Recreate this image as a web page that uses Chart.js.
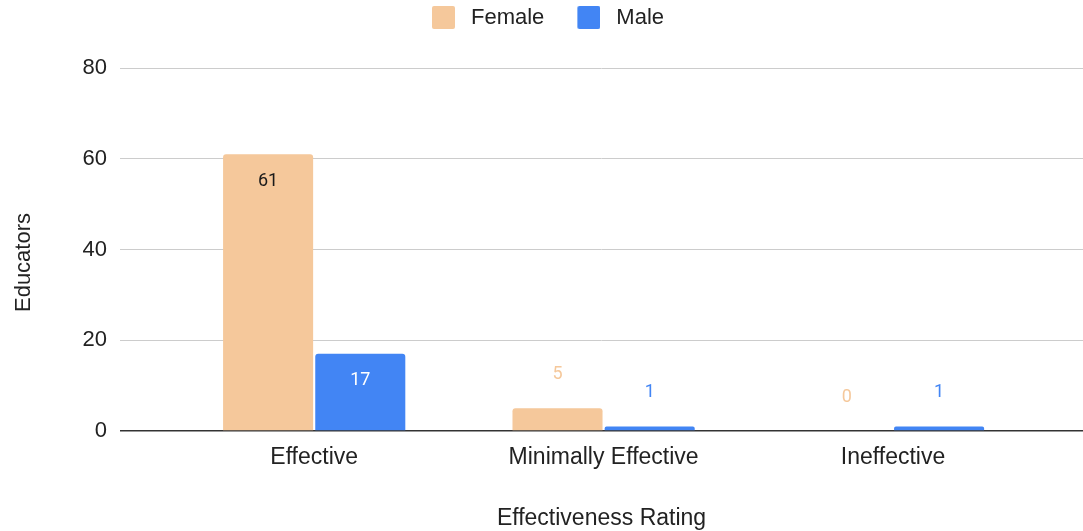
<!DOCTYPE html>
<html>
<head>
<meta charset="utf-8">
<title>Educators by Effectiveness Rating</title>
<script src="https://cdn.jsdelivr.net/npm/chart.js@4.4.1/dist/chart.umd.min.js"></script>
<style>
  html, body { margin: 0; padding: 0; background: #ffffff; }
  #wrap { width: 1083px; height: 531px; position: relative; }
</style>
</head>
<body>
<div id="wrap"><canvas id="chart"></canvas></div>
<script>
// Data
const categories = ['Effective', 'Minimally Effective', 'Ineffective'];
const femaleCounts = [61, 5, 0];
const maleCounts = [17, 1, 1];
const seriesNames = ['Female', 'Male'];
const yTickValues = [0, 20, 40, 60, 80];
const xAxisTitle = 'Effectiveness Rating';
const yAxisTitle = 'Educators';

// Styling
const seriesColors = ['#F5C89B', '#4285F4'];
const insideLabelColors = ['#1a1a1a', '#ffffff'];
const textFamily = "'Liberation Sans', Arial, sans-serif";
const labelFamily = "Roboto, 'Liberation Sans', sans-serif";
const textColor = '#222222';

// Categories sit at integer positions on a linear x scale so the
// horizontal gridlines can run a little past the outer groups.
const xRange = { min: -0.671, max: 2.6565 };

const toPoints = values => values.map((v, i) => ({ x: i, y: v }));

// Legend swatch: a rounded square set to the right of a transparent margin.
function swatch(color) {
  const c = document.createElement('canvas');
  c.width = 31; c.height = 24;
  const g = c.getContext('2d');
  g.fillStyle = color;
  g.beginPath();
  if (g.roundRect) { g.roundRect(8, 0, 23, 23, 2); } else { g.rect(8, 0, 23, 23); }
  g.fill();
  return c;
}

// Value labels: inside the top of tall bars, above short ones in the series colour.
const barValueLabels = {
  id: 'barValueLabels',
  afterDatasetsDraw(chart) {
    const ctx = chart.ctx;
    chart.data.datasets.forEach((ds, di) => {
      const meta = chart.getDatasetMeta(di);
      meta.data.forEach((bar, i) => {
        const value = ds.data[i].y;
        const h = bar.base - bar.y;
        ctx.save();
        ctx.font = '18px ' + labelFamily;
        ctx.textAlign = 'center';
        ctx.textBaseline = 'middle';
        let y;
        if (h > 50) {
          ctx.fillStyle = insideLabelColors[di];
          y = bar.y + 27;
        } else {
          ctx.fillStyle = seriesColors[di];
          y = bar.y - 34;
        }
        ctx.fillText(String(value), bar.x, y);
        ctx.restore();
      });
    });
  }
};

// Vertical axis title, centred on the canvas height.
const yTitle = {
  id: 'yTitle',
  afterDraw(chart) {
    const ctx = chart.ctx;
    ctx.save();
    ctx.translate(23.5, chart.height / 2 - 3);
    ctx.rotate(-Math.PI / 2);
    ctx.font = '22px ' + textFamily;
    ctx.fillStyle = textColor;
    ctx.textAlign = 'center';
    ctx.textBaseline = 'middle';
    ctx.fillText(yAxisTitle, 0, 0);
    ctx.restore();
  }
};

// Extra room between the legend row and the plot.
const legendGap = {
  id: 'legendGap',
  beforeLayout(chart) {
    const legend = chart.legend;
    if (legend && !legend.__gapPatched) {
      const fit = legend.fit;
      legend.fit = function () {
        fit.call(this);
        this.height += 29;
      };
      legend.__gapPatched = true;
    }
  }
};

new Chart(document.getElementById('chart'), {
  type: 'bar',
  data: {
    datasets: [
      {
        label: seriesNames[0],
        data: toPoints(femaleCounts),
        backgroundColor: seriesColors[0],
        pointStyle: swatch(seriesColors[0]),
        borderRadius: 3,
        borderSkipped: 'start'
      },
      {
        label: seriesNames[1],
        data: toPoints(maleCounts),
        backgroundColor: seriesColors[1],
        pointStyle: swatch(seriesColors[1]),
        borderRadius: 3,
        borderSkipped: 'start'
      }
    ]
  },
  options: {
    responsive: true,
    maintainAspectRatio: false,
    animation: false,
    devicePixelRatio: 1,
    categoryPercentage: 0.637,
    barPercentage: 0.977,
    layout: { padding: { top: -13, left: 0, right: 0, bottom: 0 } },
    plugins: {
      legend: {
        position: 'top',
        labels: {
          usePointStyle: true,
          pointStyleWidth: 41,
          boxHeight: 23,
          padding: 20,
          color: textColor,
          font: { family: textFamily, size: 22 }
        }
      },
      tooltip: { enabled: false }
    },
    scales: {
      x: {
        type: 'linear',
        offset: false,
        min: xRange.min,
        max: xRange.max,
        afterFit(axis) { axis.height = 100; },
        afterBuildTicks(axis) { axis.ticks = categories.map((_, i) => ({ value: i })); },
        grid: { display: false, offset: false },
        border: { display: false },
        ticks: {
          autoSkip: false,
          maxRotation: 0,
          padding: 5,
          color: textColor,
          font: { family: textFamily, size: 23 },
          callback: v => categories[v] !== undefined ? categories[v] : ''
        },
        title: {
          display: true,
          text: xAxisTitle,
          color: textColor,
          font: { family: textFamily, size: 23 },
          padding: { top: 0, bottom: -1.5 }
        }
      },
      y: {
        min: yTickValues[0],
        max: yTickValues[yTickValues.length - 1],
        afterFit(axis) { axis.width = 120; },
        afterBuildTicks(axis) { axis.ticks = yTickValues.map(v => ({ value: v })); },
        border: { display: false },
        grid: {
          drawTicks: false,
          color: c => (c.tick && c.tick.value === 0) ? '#333333' : '#cccccc',
          lineWidth: c => (c.tick && c.tick.value === 0) ? 1.5 : 1
        },
        ticks: {
          padding: 13,
          color: textColor,
          font: { family: textFamily, size: 22 }
        },
        title: { display: false }
      }
    }
  },
  plugins: [barValueLabels, yTitle, legendGap]
});
</script>
</body>
</html>
